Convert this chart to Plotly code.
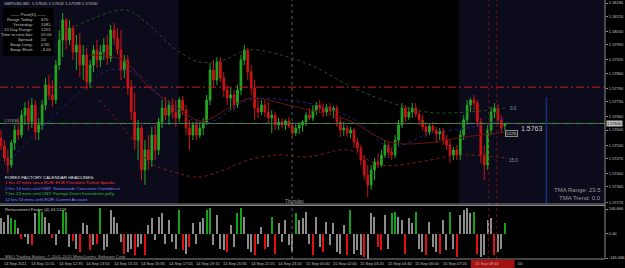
import plotly.graph_objects as go

# ---------------- data ----------------
bars = list(range(148))
opens = [1.57563,1.57527,1.57472,1.57440,1.57541,1.57600,1.57577,1.57668,1.57700,1.57637,
 1.57714,1.57591,1.57623,1.57714,1.57806,1.57760,1.57737,1.57897,1.58011,1.58103,
 1.58011,1.58066,1.57956,1.57988,1.57897,1.57943,1.57819,1.57897,1.57966,1.57920,
 1.57956,1.57988,1.57929,1.58057,1.58020,1.57966,1.57874,1.57920,1.57792,1.57682,
 1.57554,1.57609,1.57417,1.57509,1.57463,1.57577,1.57509,1.57637,1.57700,1.57668,
 1.57714,1.57682,1.57655,1.57737,1.57691,1.57609,1.57577,1.57623,1.57577,1.57609,
 1.57637,1.57737,1.57874,1.57828,1.57911,1.57838,1.57783,1.57746,1.57760,1.57714,
 1.57783,1.57920,1.57966,1.57865,1.57792,1.57700,1.57682,1.57714,1.57682,1.57655,
 1.57668,1.57623,1.57637,1.57623,1.57641,1.57618,1.57586,1.57609,1.57623,1.57637,
 1.57668,1.57655,1.57691,1.57714,1.57700,1.57682,1.57705,1.57687,1.57700,1.57637,
 1.57600,1.57609,1.57586,1.57600,1.57545,1.57518,1.57463,1.57394,1.57349,1.57417,
 1.57454,1.57440,1.57486,1.57531,1.57499,1.57486,1.57554,1.57623,1.57700,1.57659,
 1.57682,1.57700,1.57673,1.57646,1.57614,1.57591,1.57618,1.57600,1.57582,1.57595,
 1.57554,1.57531,1.57486,1.57509,1.57486,1.57577,1.57646,1.57714,1.57737,1.57723,
 1.57637,1.57486,1.57440,1.57600,1.57682,1.57700,1.57646,1.57620]
highs = [1.57600,1.57554,1.57509,1.57554,1.57623,1.57655,1.57691,1.57728,1.57737,1.57746,
 1.57737,1.57655,1.57737,1.57838,1.57851,1.57828,1.57920,1.58057,1.58135,1.58112,
 1.58103,1.58080,1.58034,1.58043,1.57988,1.57975,1.57920,1.57988,1.58011,1.57988,
 1.58020,1.58034,1.58080,1.58089,1.58066,1.58057,1.57943,1.57943,1.57828,1.57769,
 1.57646,1.57623,1.57554,1.57577,1.57614,1.57623,1.57655,1.57737,1.57751,1.57737,
 1.57746,1.57737,1.57751,1.57755,1.57714,1.57646,1.57637,1.57646,1.57637,1.57655,
 1.57760,1.57906,1.57920,1.57933,1.57933,1.57865,1.57806,1.57792,1.57783,1.57806,
 1.57943,1.57988,1.57975,1.57897,1.57828,1.57746,1.57737,1.57737,1.57728,1.57691,
 1.57682,1.57655,1.57655,1.57650,1.57659,1.57637,1.57627,1.57637,1.57646,1.57682,
 1.57700,1.57714,1.57728,1.57737,1.57723,1.57719,1.57723,1.57710,1.57714,1.57655,
 1.57637,1.57623,1.57614,1.57609,1.57563,1.57531,1.57486,1.57440,1.57440,1.57472,
 1.57495,1.57509,1.57554,1.57545,1.57522,1.57577,1.57646,1.57723,1.57714,1.57705,
 1.57723,1.57723,1.57691,1.57668,1.57637,1.57632,1.57637,1.57614,1.57609,1.57609,
 1.57577,1.57554,1.57522,1.57531,1.57600,1.57668,1.57737,1.57746,1.57760,1.57737,
 1.57655,1.57531,1.57623,1.57705,1.57723,1.57719,1.57668,1.57632]
lows = [1.57509,1.57454,1.57403,1.57426,1.57509,1.57554,1.57563,1.57623,1.57600,1.57609,
 1.57554,1.57554,1.57600,1.57691,1.57737,1.57705,1.57719,1.57874,1.57933,1.57966,
 1.57988,1.57920,1.57874,1.57842,1.57828,1.57783,1.57792,1.57865,1.57883,1.57888,
 1.57920,1.57897,1.57911,1.57988,1.57943,1.57828,1.57838,1.57760,1.57646,1.57509,
 1.57463,1.57371,1.57349,1.57417,1.57431,1.57463,1.57486,1.57609,1.57646,1.57623,
 1.57655,1.57614,1.57637,1.57668,1.57577,1.57509,1.57554,1.57554,1.57563,1.57577,
 1.57623,1.57714,1.57796,1.57806,1.57819,1.57751,1.57714,1.57691,1.57691,1.57700,
 1.57760,1.57897,1.57828,1.57760,1.57646,1.57655,1.57668,1.57659,1.57632,1.57586,
 1.57600,1.57600,1.57609,1.57600,1.57609,1.57568,1.57573,1.57582,1.57591,1.57618,
 1.57646,1.57641,1.57668,1.57678,1.57659,1.57664,1.57668,1.57655,1.57614,1.57568,
 1.57573,1.57568,1.57563,1.57518,1.57499,1.57440,1.57371,1.57294,1.57326,1.57371,
 1.57426,1.57431,1.57472,1.57472,1.57463,1.57472,1.57531,1.57609,1.57637,1.57646,
 1.57655,1.57659,1.57623,1.57600,1.57568,1.57577,1.57586,1.57541,1.57554,1.57531,
 1.57509,1.57449,1.57463,1.57463,1.57463,1.57554,1.57623,1.57682,1.57691,1.57614,
 1.57449,1.57371,1.57417,1.57577,1.57655,1.57623,1.57586,1.57599]
closes = [1.57527,1.57472,1.57440,1.57541,1.57600,1.57577,1.57668,1.57700,1.57637,1.57714,
 1.57591,1.57623,1.57714,1.57806,1.57760,1.57737,1.57897,1.58011,1.58103,1.58011,
 1.58066,1.57956,1.57988,1.57897,1.57943,1.57819,1.57897,1.57966,1.57920,1.57956,
 1.57988,1.57929,1.58057,1.58020,1.57966,1.57874,1.57920,1.57792,1.57682,1.57554,
 1.57609,1.57417,1.57509,1.57463,1.57577,1.57509,1.57637,1.57700,1.57668,1.57714,
 1.57682,1.57655,1.57737,1.57691,1.57609,1.57577,1.57623,1.57577,1.57609,1.57637,
 1.57737,1.57874,1.57828,1.57911,1.57838,1.57783,1.57746,1.57760,1.57714,1.57783,
 1.57920,1.57966,1.57865,1.57792,1.57700,1.57682,1.57714,1.57682,1.57655,1.57668,
 1.57623,1.57637,1.57623,1.57641,1.57618,1.57586,1.57609,1.57623,1.57637,1.57668,
 1.57655,1.57691,1.57714,1.57700,1.57682,1.57705,1.57687,1.57700,1.57637,1.57600,
 1.57609,1.57586,1.57600,1.57545,1.57518,1.57463,1.57394,1.57349,1.57417,1.57454,
 1.57440,1.57486,1.57531,1.57499,1.57486,1.57554,1.57623,1.57700,1.57659,1.57682,
 1.57700,1.57673,1.57646,1.57614,1.57591,1.57618,1.57600,1.57582,1.57595,1.57554,
 1.57531,1.57486,1.57509,1.57486,1.57577,1.57646,1.57714,1.57737,1.57723,1.57637,
 1.57486,1.57440,1.57600,1.57682,1.57700,1.57646,1.57609,1.57630]

# Retracement Finder histogram (value, state: n=neutral, g=up, r=down)
hist = [95,70,110,90,80,30,-30,-20,-60,-70,
 120,140,130,100,60,-25,-70,20,140,130,
 -80,-45,-90,-110,60,50,-100,-70,-60,150,
 -100,-80,140,100,60,-50,-120,-110,-90,-130,
 -80,-60,-130,50,90,-40,100,120,-60,80,
 -50,-90,140,-100,-120,-80,60,-60,70,90,
 140,150,-70,110,-90,-100,-110,50,-80,120,
 150,100,-90,-110,-130,-60,40,-90,-80,100,
 -120,60,-50,80,-70,-110,120,80,90,130,
 -60,-130,100,-80,-110,70,-70,60,-110,-120,
 50,-130,140,-120,-100,-130,-140,-150,120,100,
 -80,-100,110,-90,120,130,100,80,-120,90,
 60,130,-90,-110,-130,70,-80,-110,-120,80,
 -100,130,-90,-140,110,140,150,120,130,-120,
 -140,-130,80,90,-130,-110,-90,60]
hist_state = list("nnnggnrnnr"
                  "nggnnrnngg"
                  "nrnrnnrnrg"
                  "nnnnnnrnnr"
                  "nnrnnnnnnn"
                  "nngrnrnnnn"
                  "ggnnnnrnng"
                  "gnnnrnnrng"
                  "rnnnnngnnn"
                  "nrnnrnnnnn"
                  "nrgnnnrnnn"
                  "rrnnggnnrn"
                  "ngnnrnnnrn"
                  "ngnrnnnngr"
                  "nnnnrnng")

price_ticks = [1.58180, 1.58120, 1.58050, 1.57990, 1.57920, 1.57860, 1.57790, 1.57730,
               1.57660, 1.57600, 1.57530, 1.57470, 1.57400, 1.57340, 1.57270]
ind_ticks = [146.666, 0.0, -146.666]
ind_tick_text = ["146.666", "0.00", "-146.666"]

time_label_bars = [0, 8, 16, 24, 32, 40, 48, 56, 64, 72, 80, 88, 96, 104, 112, 120, 128]
time_labels = ["14 Sep 2011", "14 Sep 11:15", "14 Sep 12:35", "14 Sep 13:55", "14 Sep 15:15",
               "14 Sep 16:35", "14 Sep 17:55", "14 Sep 19:15", "14 Sep 20:35", "14 Sep 21:55",
               "14 Sep 23:20", "15 Sep 00:40", "15 Sep 02:00", "15 Sep 03:20", "15 Sep 04:40",
               "15 Sep 06:00", "15 Sep 07:20"]

# TMA bands / moving average (bar index, price)
upper_x = [17.1, 25.8, 36.5, 43.2, 50.4, 57.7, 64.9, 72.2, 81.7, 91.6, 101.2, 109.9, 124.3, 135.9, 147.5]
upper_y = [1.58034, 1.58103, 1.58148, 1.58080, 1.57975, 1.57911, 1.57920, 1.57966, 1.57943,
           1.57888, 1.57806, 1.57746, 1.57682, 1.57682, 1.57700]
center_x = [25.8, 35.4, 43.2, 50.4, 58.6, 66.4, 73.0, 83.8, 92.5, 101.2, 113.6, 124.3, 133.0, 147.5]
center_y = [1.57943, 1.57920, 1.57796, 1.57714, 1.57641, 1.57700, 1.57746, 1.57714, 1.57682,
            1.57646, 1.57545, 1.57541, 1.57563, 1.57591]
lower_x = [28.7, 37.4, 43.2, 50.4, 57.7, 64.9, 72.2, 80.9, 89.6, 101.2, 110.7, 125.2, 133.0, 147.5]
lower_y = [1.57737, 1.57577, 1.57454, 1.57408, 1.57385, 1.57417, 1.57463, 1.57486, 1.57477,
           1.57509, 1.57440, 1.57463, 1.57486, 1.57472]
ma_x = [1.2, 12.8, 22.9, 31.6, 40.3, 49.0, 59.7, 72.2, 83.8, 95.4, 104.1, 113.6, 125.2, 135.9, 147.5]
ma_y = [1.57440, 1.57623, 1.57774, 1.57874, 1.57851, 1.57714, 1.57632, 1.57737, 1.57737,
        1.57700, 1.57637, 1.57522, 1.57586, 1.57609, 1.57655]

level_red = 1.57796
bid = 1.57630

pivot_labels = ["Range Today:", "Yesterday:", "10 Day Range:", "Time to next bar:", "Spread:",
                "Swap Long:", "Swap Short:"]
pivot_values = ["470", "1081", "1255", "01:00", "20", "0.90", "-3.00"]
headlines = ["FOREX FACTORY CALENDAR HEADLINES:",
             "1 hrs 47 mins since EUR: ECB President Trichet Speaks",
             "2 hrs 14 mins until GBP: Nationwide Consumer Confidence",
             "7 hrs 13 mins until CNY: Foreign Direct Investment ytd/y",
             "12 hrs 13 mins until EUR: Current Account"]
headline_colors = ["#e8e8e8", "#ff3030", "#7878ff", "#30c030", "#6f8fff"]

# ---------------- geometry ----------------
W, H = 625, 268
PW, PH = 609, 259          # plot area in px
SP = 3.45                  # px per bar


def bx(px):
    return (px - 1) / SP


def pxp(px):
    return px / PW


def pyp(py):
    return 1 - py / PH


FONT = "Liberation Sans, Arial, sans-serif"
GREEN = "#22a822"
RED = "#cc1414"
GRAY = "#c0c0c0"

fig = go.Figure()

fig.add_trace(go.Candlestick(
    x=bars, open=opens, high=highs, low=lows, close=closes,
    increasing=dict(line=dict(color=GREEN, width=1), fillcolor=GREEN),
    decreasing=dict(line=dict(color=RED, width=1), fillcolor=RED),
    whiskerwidth=0, xaxis="x", yaxis="y", hoverinfo="skip", showlegend=False))

fig.add_trace(go.Scatter(x=upper_x, y=upper_y, mode="lines", line=dict(color="#1f561f", width=1, dash="dot", shape="spline"),
                         xaxis="x", yaxis="y", showlegend=False, hoverinfo="skip"))
fig.add_trace(go.Scatter(x=center_x, y=center_y, mode="lines", line=dict(color="#6a1414", width=1, shape="spline"),
                         xaxis="x", yaxis="y", showlegend=False, hoverinfo="skip"))
fig.add_trace(go.Scatter(x=lower_x, y=lower_y, mode="lines", line=dict(color="#8a1818", width=1, dash="dot", shape="spline"),
                         xaxis="x", yaxis="y", showlegend=False, hoverinfo="skip"))
fig.add_trace(go.Scatter(x=ma_x, y=ma_y, mode="lines", line=dict(color="#22228a", width=1, dash="dot", shape="spline"),
                         xaxis="x", yaxis="y", showlegend=False, hoverinfo="skip"))

state_color = {"n": "#8c8c8c", "g": "#17a017", "r": "#e01010"}
fig.add_trace(go.Bar(x=bars, y=hist, marker=dict(color=[state_color[s] for s in hist_state], line=dict(width=0)),
                     width=0.35, xaxis="x", yaxis="y2", showlegend=False, hoverinfo="skip"))

x0, x1 = bx(0), bx(PW)
main_dom = [1 - 204 / PH, 1]
ind_dom = [0, 54 / PH]

shapes = []
# session shading in main panel
for a, b in [(0, 180), (462, PW)]:
    shapes.append(dict(type="rect", xref="x", yref="paper", x0=bx(a), x1=bx(b), y0=main_dom[0], y1=1,
                       fillcolor="#0b0b1c", line=dict(width=0), layer="below"))
# pivot info box
shapes.append(dict(type="rect", xref="paper", yref="paper", x0=pxp(3), x1=pxp(54), y0=pyp(56), y1=pyp(8),
                   fillcolor="#000000", line=dict(width=0), layer="above"))
# horizontal levels
shapes.append(dict(type="line", xref="paper", yref="y", x0=0, x1=1, y0=level_red, y1=level_red,
                   line=dict(color="#c81e1e", width=1, dash="8px,3px,2px,3px")))
shapes.append(dict(type="line", xref="paper", yref="y", x0=0, x1=1, y0=bid, y1=bid,
                   line=dict(color="#5e665e", width=1)))
shapes.append(dict(type="line", xref="paper", yref="y", x0=0, x1=1, y0=bid, y1=bid,
                   line=dict(color="#3a8f3a", width=1, dash="6px,6px")))
# day separator and markers
shapes.append(dict(type="line", xref="x", yref="paper", x0=bx(294), x1=bx(294), y0=0, y1=1,
                   line=dict(color="#5a5a5a", width=1, dash="dot")))
for p in (492, 500):
    shapes.append(dict(type="line", xref="x", yref="paper", x0=bx(p), x1=bx(p), y0=0, y1=1,
                       line=dict(color="#701010", width=1, dash="dot")))
shapes.append(dict(type="line", xref="x", yref="paper", x0=bx(550), x1=bx(550), y0=main_dom[0], y1=pyp(97),
                   line=dict(color="#1c2c7c", width=1.5)))
# frame
for py in (204, 205.5, PH):
    shapes.append(dict(type="line", xref="paper", yref="paper", x0=0, x1=1, y0=pyp(py), y1=pyp(py),
                       line=dict(color="#8a8a8a", width=1)))
shapes.append(dict(type="line", xref="paper", yref="paper", x0=1, x1=1, y0=0, y1=1,
                   line=dict(color="#8a8a8a", width=1)))
# highlighted time box
shapes.append(dict(type="rect", xref="paper", yref="paper", x0=pxp(474), x1=pxp(518), y0=pyp(268), y1=pyp(259.5),
                   fillcolor="#a01414", line=dict(width=0)))

ann = []


def text(t, px, py, size=4.5, color=GRAY, anchor="left", **kw):
    d = dict(text=t, x=pxp(px), y=pyp(py), xref="paper", yref="paper", xanchor=anchor, yanchor="middle",
             showarrow=False, font=dict(family=FONT, size=size, color=color))
    d.update(kw)
    ann.append(d)


text("GBPUSD,M5  1.57620 1.57632 1.57599 1.57630", 2, 4, 4.3)
text("—— Pivot(D) ——", 29, 14, 4.3, anchor="center")
for k, (lab, val) in enumerate(zip(pivot_labels, pivot_values)):
    text(lab, 35, 19.5 + 5 * k, 4.3, anchor="right")
    text(val, 39, 19.5 + 5 * k, 4.3)
for k, (h, c) in enumerate(zip(headlines, headline_colors)):
    text(h, 3, 177 + 5.6 * k, 4.4, c)
text("1.57630", 2, 121, 4, "#a0a0a0")
text("TMA Range: 23.5", 607, 190, 6, "#9a9a9a", anchor="right")
text("TMA Trend: 0.0", 607, 198, 6, "#9a9a9a", anchor="right")
text("0.0", 511, 108, 4.5, "#9a9a9a")
text("15.0", 510, 160, 4.5, "#9a9a9a")
text("1.5763", 522, 128, 7, "#c8c8c8")
text("1.576", 508, 133, 4, "#c0c0c0", bordercolor="#8a8a8a", borderwidth=1, borderpad=0, bgcolor="#202020")
text("Thursday", 285, 201.5, 4.5, "#a0a0a0")
text("Retracement Finder (4) 43.5129", 3, 209, 4.3)
text("MSO Trading Station, © 2001-2011 MetaQuotes Software Corp.", 3, 256.5, 4.3, "#a0a0a0")
text("15 Sep 08:40", 476, 263.5, 4, "#e0a0a0")
text("00", 519, 263.5, 4, GRAY)
# bid label on price axis
text("1.57630", 610, 124, 4, "#000000", bgcolor="#c0c0c0", borderpad=0)

for b, t in zip(time_label_bars, time_labels):
    ann.append(dict(text=t, x=b + 0.3, y=pyp(263.5), xref="x", yref="paper", xanchor="left", yanchor="middle",
                    showarrow=False, font=dict(family=FONT, size=4, color=GRAY)))

fig.update_layout(
    width=W, height=H, margin=dict(l=0, r=W - PW, t=0, b=H - PH),
    paper_bgcolor="#000000", plot_bgcolor="#000000",
    showlegend=False, bargap=0,
    xaxis=dict(range=[x0, x1], anchor="y2", showticklabels=False, showgrid=False, zeroline=False,
               showline=False, ticks="", rangeslider=dict(visible=False), fixedrange=True),
    yaxis=dict(domain=main_dom, range=[1.57262, 1.58194], side="right", tickvals=price_ticks,
               ticktext=[f"{v:.5f}" for v in price_ticks], tickfont=dict(family=FONT, size=4, color=GRAY),
               ticks="outside", ticklen=2, tickcolor="#8a8a8a", showgrid=False, zeroline=False, showline=False),
    yaxis2=dict(domain=ind_dom, range=[-152.65, 170.61], side="right", tickvals=ind_ticks, ticktext=ind_tick_text,
                tickfont=dict(family=FONT, size=4, color=GRAY), ticks="outside", ticklen=2, tickcolor="#8a8a8a",
                showgrid=False, zeroline=False, showline=False),
    shapes=shapes, annotations=ann,
)

fig.write_html("out.html", config={"displayModeBar": False})
